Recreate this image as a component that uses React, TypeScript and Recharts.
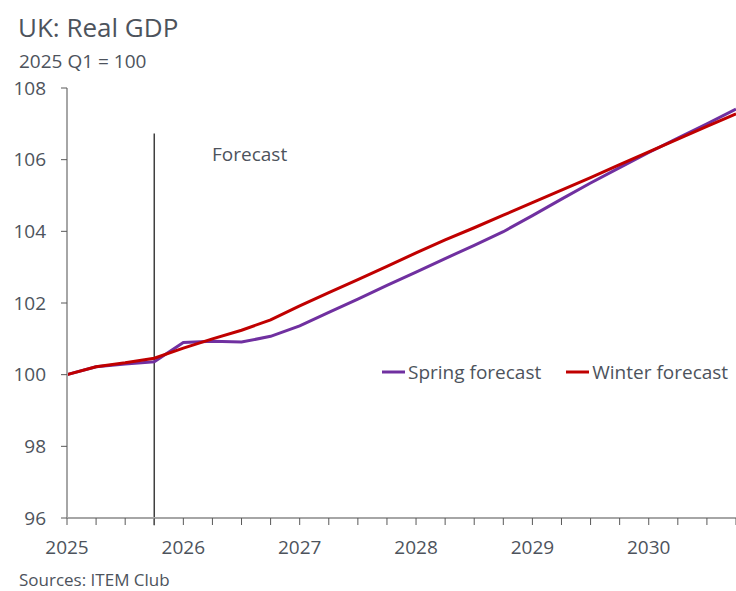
import React from "react";
import { LineChart, Line, XAxis, YAxis, ReferenceLine } from "recharts";

const quarters = [
  "2025 Q1", "2025 Q2", "2025 Q3", "2025 Q4",
  "2026 Q1", "2026 Q2", "2026 Q3", "2026 Q4",
  "2027 Q1", "2027 Q2", "2027 Q3", "2027 Q4",
  "2028 Q1", "2028 Q2", "2028 Q3", "2028 Q4",
  "2029 Q1", "2029 Q2", "2029 Q3", "2029 Q4",
  "2030 Q1", "2030 Q2", "2030 Q3", "2030 Q4",
];

const springForecast = [
  100.0, 100.22, 100.3, 100.36,
  100.9, 100.93, 100.91, 101.07,
  101.36, 101.74, 102.11, 102.49,
  102.86, 103.24, 103.61, 103.99,
  104.44, 104.9, 105.35, 105.78,
  106.2, 106.6, 107.0, 107.41,
];

const winterForecast = [
  100.0, 100.22, 100.33, 100.46,
  100.74, 101.0, 101.24, 101.53,
  101.92, 102.29, 102.65, 103.02,
  103.4, 103.76, 104.1, 104.45,
  104.8, 105.15, 105.5, 105.86,
  106.22, 106.57, 106.93, 107.28,
];

const yTicks = [96, 98, 100, 102, 104, 106, 108];

const data = quarters.map((q, i) => ({
  q,
  spring: springForecast[i],
  winter: winterForecast[i],
}));

const FONT = "'Open Sans', sans-serif";
const TEXT = "#4d535c";

const legendItems = [
  { label: "Spring forecast", color: "#7030a0" },
  { label: "Winter forecast", color: "#c00000" },
];

function LegendBox() {
  return (
    <div style={{ display: "flex", fontFamily: FONT, fontSize: 19, color: TEXT, whiteSpace: "nowrap" }}>
      {legendItems.map((it, i) => (
        <div key={it.label} style={{ display: "flex", alignItems: "center", marginRight: i === 0 ? 25 : 0 }}>
          <svg width={23} height={4} style={{ marginRight: 3 }}>
            <line x1={0} y1={2} x2={23} y2={2} stroke={it.color} strokeWidth={3} />
          </svg>
          <span>{it.label}</span>
        </div>
      ))}
    </div>
  );
}

export default function App() {
  return (
    <div style={{ position: "absolute", left: 0, top: 0, width: 736, height: 591, background: "#fff", fontFamily: FONT }}>
      <div style={{ position: "absolute", left: 18, top: 9, fontSize: 26, color: TEXT }}>UK: Real GDP</div>
      <div style={{ position: "absolute", left: 19, top: 48, fontSize: 19, color: TEXT }}>2025 Q1 = 100</div>
      <div style={{ position: "absolute", left: 212, top: 141, fontSize: 19, color: TEXT }}>Forecast</div>
      <div style={{ position: "absolute", left: 382, top: 359 }}>
        <LegendBox />
      </div>
      <div style={{ position: "absolute", left: 19, top: 568, fontSize: 17, color: TEXT }}>Sources: ITEM Club</div>
      <LineChart width={736} height={591} data={data} margin={{ top: 88, right: 0, bottom: 43, left: 20 }}>
        <XAxis
          dataKey="q"
          interval={0}
          height={30}
          tickSize={7}
          tickMargin={16}
          axisLine={{ stroke: "#a6a6a6", strokeWidth: 2 }}
          tickLine={{ stroke: "#595959" }}
          tick={{ fill: TEXT, fontSize: 19, fontFamily: FONT }}
          tickFormatter={(v: string) => (v.endsWith("Q1") ? v.slice(0, 4) : "")}
        />
        <YAxis
          domain={[96, 108]}
          ticks={yTicks}
          width={47}
          tickSize={6}
          tickMargin={15}
          axisLine={{ stroke: "#a6a6a6", strokeWidth: 2 }}
          tickLine={{ stroke: "#595959" }}
          tick={{ fill: TEXT, fontSize: 19, fontFamily: FONT }}
        />
        <ReferenceLine
          segment={[{ x: "2025 Q4", y: 95.8 }, { x: "2025 Q4", y: 106.73 }]}
          stroke="#404040"
          strokeWidth={1.5}
          ifOverflow="visible"
        />
        <Line dataKey="spring" stroke="#7030a0" strokeWidth={3} dot={false} isAnimationActive={false} />
        <Line dataKey="winter" stroke="#c00000" strokeWidth={3} dot={false} isAnimationActive={false} />
      </LineChart>
    </div>
  );
}
